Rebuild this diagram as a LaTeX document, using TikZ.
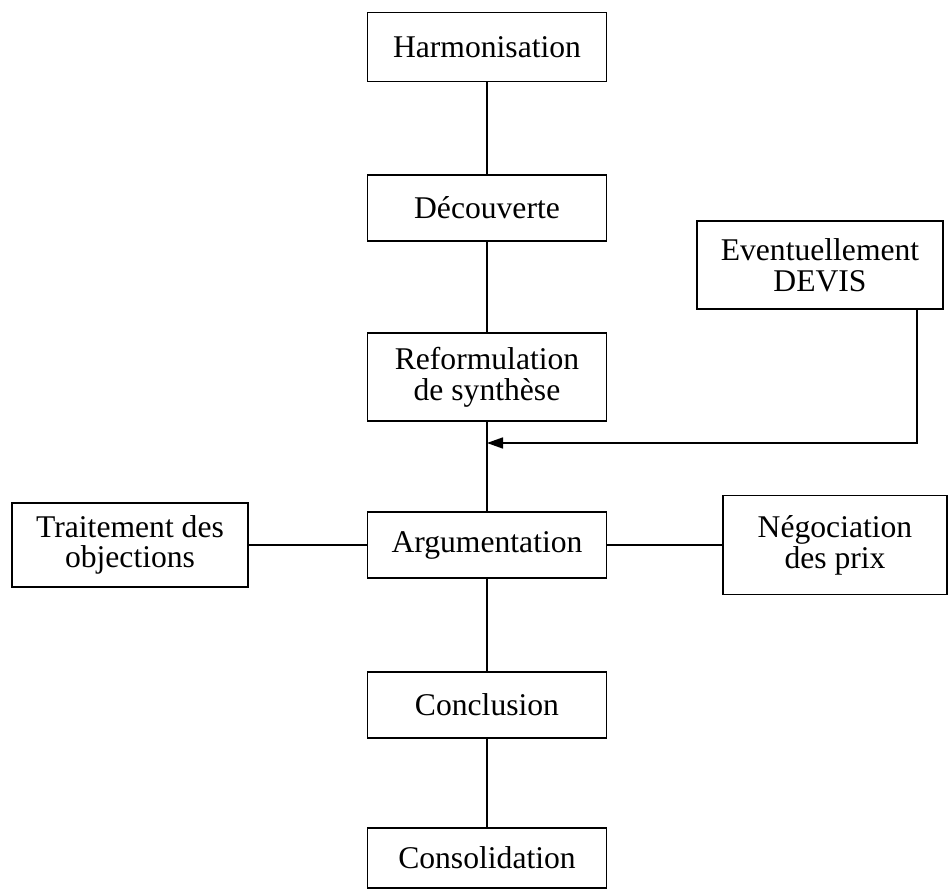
\documentclass[tikz,border=0pt]{standalone}
\usepackage{fontspec}
\setmainfont{Liberation Serif}
\usetikzlibrary{positioning,arrows.meta}

\begin{document}
\begin{tikzpicture}[
	x=0.02cm, y=-0.02cm,
	every node/.style={font=\fontsize{18}{17.5}\selectfont, align=center},
	box/.style={draw, line width=0.9pt, minimum width=4.78cm, minimum height=1.32cm, inner sep=2pt},
	line/.style={line width=0.9pt},
	arrow/.style={-{Triangle[length=3.2mm,width=2.2mm]}, line width=0.9pt}
	]
	
	\useasboundingbox (0,0) rectangle (951,892);
	
	% main column
	\node[box, minimum height=1.38cm] (harm) at (487,47) {Harmonisation};
	\node[box] (dec) at (487,208) {Découverte};
	\node[box, minimum height=1.76cm] (refo) at (487,377) {Reformulation\\de synthèse};
	\node[box] (argu) at (487,545) {Argumentation};
	\node[box] (concl) at (487,705) {Conclusion};
	\node[box, minimum height=1.2cm] (conso) at (487,858) {Consolidation};
	
	% side boxes
	\node[box, minimum width=4.92cm, minimum height=1.76cm] (devis) at (820,265) {Eventuellement\\DEVIS};
	\node[box, minimum width=4.72cm, minimum height=1.68cm] (trait) at (130,545) {Traitement des\\objections};
	\node[box, minimum width=4.48cm, minimum height=1.98cm] (nego) at (835,545) {Négociation\\des prix};
	
	\draw[line] (harm) -- (dec);
	\draw[line] (dec) -- (refo);
	\draw[line] (refo) -- (argu);
	\draw[line] (argu) -- (concl);
	\draw[line] (concl) -- (conso);
	\draw[line] (trait) -- (argu);
	\draw[line] (argu) -- (nego);
	
	\coordinate (join) at (refo.south |- 0,443);
	\draw[arrow] ([xshift=1.94cm]devis.south) |- (join);
	
\end{tikzpicture}
\end{document}
